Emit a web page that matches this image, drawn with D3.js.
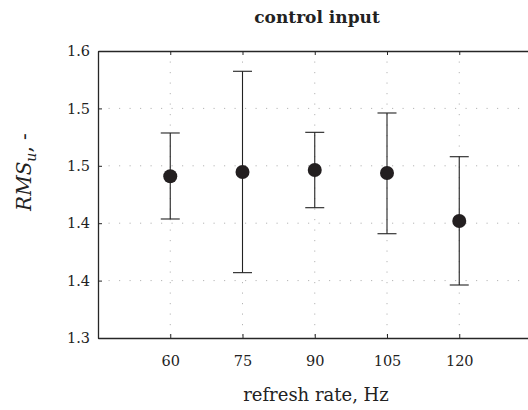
<!DOCTYPE html>
<html>
<head>
<meta charset="utf-8">
<script src="https://cdn.jsdelivr.net/npm/d3@7"></script>
<style>
  body { margin: 0; background: #fff; }
  text { font-family: "DejaVu Serif", "Liberation Serif", serif; fill: #222; }
</style>
</head>
<body>
<div id="chart"></div>
<script>
// refresh rates and the mean / error bar ends
var rates = [60, 75, 90, 105, 120];
var means = [1.469, 1.4735, 1.4756, 1.4725, 1.4223];
var upper = [1.5143, 1.5788, 1.515, 1.5352, 1.4895];
var lower = [1.4244, 1.3683, 1.4362, 1.409, 1.3554];
var yTicks = [1.3, 1.36, 1.42, 1.48, 1.54, 1.6];

var svgWidth = 528;
var svgHeight = 410;

var svg = d3.select('#chart')
            .append('svg')
            .attr("width", svgWidth)
            .attr("height", svgHeight);

var pLeft = 98, pRight = 531.5, pTop = 51, pBottom = 338;

var x = d3.scaleLinear()
  .domain([45, 135])
  .range([pLeft, pRight]);

var y = d3.scaleLinear()
  .domain([1.3, 1.6])
  .range([pBottom, pTop]);

// dotted grid
var grid = svg.append("g")
  .attr("stroke", "#b5b5b5")
  .attr("stroke-width", 1)
  .attr("stroke-dasharray", "1.2,9.3");

grid.selectAll(".vg")
  .data(rates)
  .enter()
  .append("line")
  .attr("x1", d => x(d)).attr("x2", d => x(d))
  .attr("y1", pTop).attr("y2", pBottom);

grid.selectAll(".hg")
  .data(yTicks.slice(1, -1))
  .enter()
  .append("line")
  .attr("x1", pLeft).attr("x2", pRight)
  .attr("y1", d => y(d)).attr("y2", d => y(d));

// axes (ticks point inward)
var xAxis = svg.append("g")
  .attr("transform", "translate(0," + pBottom + ")")
  .call(d3.axisBottom(x).tickValues(rates).tickSizeInner(-4).tickSizeOuter(0).tickPadding(18));

var xTop = svg.append("g")
  .attr("transform", "translate(0," + pTop + ")")
  .call(d3.axisTop(x).tickValues(rates).tickSizeInner(-4).tickSizeOuter(0).tickFormat(""));

var yAxis = svg.append("g")
  .attr("transform", "translate(" + pLeft + ",0)")
  .call(d3.axisLeft(y).tickValues(yTicks).tickFormat(d3.format(".1f")).tickSizeInner(-4).tickSizeOuter(0).tickPadding(8));

[xAxis, xTop, yAxis].forEach(function(g) {
  g.select(".domain").attr("stroke", "#262626").attr("stroke-width", 1.3);
  g.selectAll(".tick line").attr("stroke", "#262626").attr("stroke-width", 1);
  g.selectAll(".tick text")
    .attr("fill", "#222")
    .style("font-family", '"DejaVu Serif", serif')
    .style("font-size", "14.5px");
});

// error bars
var bars = svg.append("g")
  .attr("stroke", "#222")
  .attr("stroke-width", 1.1);

bars.selectAll(".stem")
  .data(rates)
  .enter()
  .append("line")
  .attr("x1", d => x(d)).attr("x2", d => x(d))
  .attr("y1", (d, i) => y(upper[i]))
  .attr("y2", (d, i) => y(lower[i]));

bars.selectAll(".capU")
  .data(rates)
  .enter()
  .append("line")
  .attr("x1", d => x(d) - 9.5).attr("x2", d => x(d) + 9.5)
  .attr("y1", (d, i) => y(upper[i]))
  .attr("y2", (d, i) => y(upper[i]));

bars.selectAll(".capL")
  .data(rates)
  .enter()
  .append("line")
  .attr("x1", d => x(d) - 9.5).attr("x2", d => x(d) + 9.5)
  .attr("y1", (d, i) => y(lower[i]))
  .attr("y2", (d, i) => y(lower[i]));

svg.selectAll("circle")
  .data(rates)
  .enter()
  .append("circle")
  .attr("cx", d => x(d))
  .attr("cy", (d, i) => y(means[i]))
  .attr("r", 7)
  .attr("fill", "#231f20");

// labels
svg.append("text")
  .attr("x", 317).attr("y", 23)
  .attr("text-anchor", "middle")
  .style("font-size", "17px")
  .style("font-weight", "bold")
  .text("control input");

svg.append("text")
  .attr("x", 316).attr("y", 401)
  .attr("text-anchor", "middle")
  .style("font-size", "18px")
  .text("refresh rate, Hz");

var yl = svg.append("text")
  .attr("transform", "translate(31,172) rotate(-90)")
  .attr("text-anchor", "middle")
  .style("font-size", "20px");
yl.append("tspan").style("font-style", "italic").text("RMS");
yl.append("tspan").style("font-style", "italic").style("font-size", "14px").attr("dy", 5).text("u");
yl.append("tspan").attr("dy", -5).text(", -");
</script>
</body>
</html>
